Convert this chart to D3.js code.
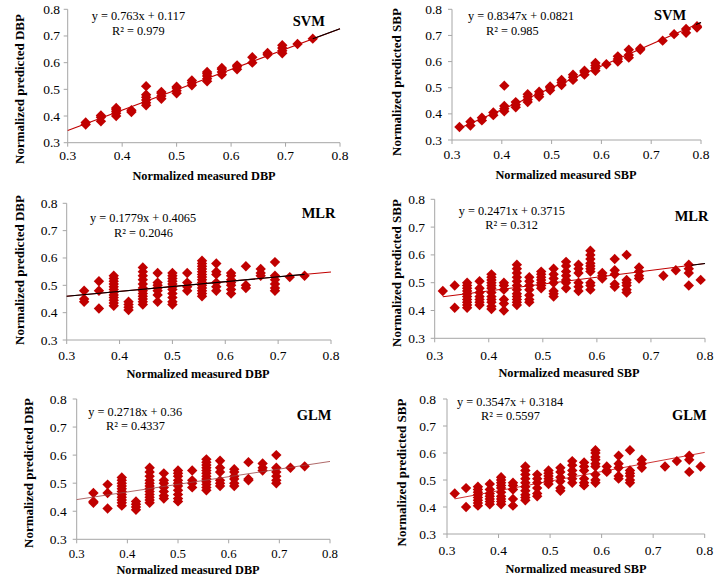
<!DOCTYPE html>
<html><head><meta charset="utf-8">
<script src="https://cdn.jsdelivr.net/npm/d3@7"></script>
<style>
body{margin:0;background:#fff;}
svg{display:block;}
text{font-family:"Liberation Serif","Times New Roman",serif;fill:#000;}
</style></head>
<body><svg id="c" width="724" height="583"></svg>
<script>
// ---------- DATA ----------
const xTicks = [0.3, 0.4, 0.5, 0.6, 0.7, 0.8];
const yTicks = [0.3, 0.4, 0.5, 0.6, 0.7, 0.8];
const tickLabels = ["0.3", "0.4", "0.5", "0.6", "0.7", "0.8"];

const modelNames = ["SVM", "SVM", "MLR", "MLR", "GLM", "GLM"];
const xTitles = ["Normalized measured DBP", "Normalized measured SBP", "Normalized measured DBP", "Normalized measured SBP", "Normalized measured DBP", "Normalized measured SBP"];
const yTitles = ["Normalized predicted DBP", "Normalized predicted SBP", "Normalized predicted DBP", "Normalized predicted SBP", "Normalized predicted DBP", "Normalized predicted SBP"];
const equations = ["y = 0.763x + 0.117", "y = 0.8347x + 0.0821", "y = 0.1779x + 0.4065", "y = 0.2471x + 0.3715", "y = 0.2718x + 0.36", "y = 0.3547x + 0.3184"];
const rSquared = ["R² = 0.979", "R² = 0.985", "R² = 0.2046", "R² = 0.312", "R² = 0.4337", "R² = 0.5597"];
const slopes = [0.763, 0.8347, 0.1779, 0.2471, 0.2718, 0.3547];
const intercepts = [0.117, 0.0821, 0.4065, 0.3715, 0.36, 0.3184];
// trendline extents [red start, red end], black overlay [start, end]
const trendRed = [[0.3, 0.8], [0.315, 0.8], [0.3, 0.8], [0.315, 0.8], [0.3, 0.8], [0.315, 0.8]];
const trendBlack = [[0.75, 0.8], [0.79, 0.8], [0.3, 0.75], [0.775, 0.8], null, null];

// points: [measured x, [predicted y values]]
const svmDbp = [
  [0.333, [0.368, 0.376]], [0.361, [0.38, 0.395, 0.402]], [0.389, [0.40, 0.41, 0.418, 0.425, 0.43]],
  [0.417, [0.415, 0.422]], [0.444, [0.44, 0.45, 0.46, 0.47, 0.48, 0.512]], [0.472, [0.465, 0.475, 0.485, 0.49]],
  [0.5, [0.485, 0.495, 0.505, 0.51]], [0.528, [0.515, 0.525, 0.533]], [0.556, [0.53, 0.54, 0.55, 0.558, 0.565]],
  [0.583, [0.555, 0.565, 0.575, 0.58]], [0.611, [0.575, 0.585, 0.59]], [0.639, [0.60, 0.62]],
  [0.667, [0.63, 0.636]], [0.694, [0.635, 0.645, 0.655, 0.665]], [0.722, [0.67]], [0.75, [0.69]]
];
const svmSbp = [
  [0.315, [0.35]], [0.337, [0.355, 0.37]], [0.36, [0.375, 0.385]], [0.383, [0.395, 0.405]],
  [0.405, [0.41, 0.42, 0.43, 0.508]], [0.428, [0.425, 0.435, 0.445]], [0.452, [0.445, 0.455, 0.465, 0.475]],
  [0.475, [0.465, 0.475, 0.485]], [0.497, [0.49, 0.50, 0.505]], [0.52, [0.51, 0.52, 0.53]],
  [0.543, [0.53, 0.54, 0.55]], [0.566, [0.55, 0.56, 0.565]], [0.588, [0.565, 0.575, 0.585, 0.595]],
  [0.61, [0.59]], [0.633, [0.60, 0.61, 0.62]], [0.655, [0.615, 0.625, 0.645]], [0.678, [0.645, 0.65]],
  [0.723, [0.68]], [0.746, [0.705]], [0.77, [0.71, 0.725]], [0.792, [0.73, 0.735]]
];
const mlrDbp = [
  [0.333, [0.48, 0.45, 0.44]], [0.361, [0.515, 0.48, 0.415]],
  [0.389, [0.535, 0.525, 0.515, 0.505, 0.495, 0.485, 0.475, 0.465, 0.455, 0.445, 0.435, 0.425]],
  [0.417, [0.44, 0.43, 0.42, 0.41]],
  [0.444, [0.565, 0.55, 0.535, 0.52, 0.505, 0.49, 0.48, 0.47, 0.46, 0.45, 0.44, 0.43]],
  [0.472, [0.545, 0.51, 0.50, 0.49, 0.48, 0.465, 0.44]],
  [0.5, [0.545, 0.535, 0.525, 0.515, 0.505, 0.495, 0.485, 0.47, 0.455, 0.44, 0.43]],
  [0.528, [0.545, 0.51, 0.495, 0.48]],
  [0.556, [0.59, 0.58, 0.57, 0.56, 0.55, 0.54, 0.53, 0.52, 0.51, 0.50, 0.49, 0.48, 0.47, 0.46]],
  [0.583, [0.58, 0.55, 0.54, 0.51, 0.495, 0.48]],
  [0.611, [0.545, 0.535, 0.52, 0.51, 0.50, 0.485, 0.47]],
  [0.639, [0.57, 0.50, 0.49]], [0.667, [0.56, 0.545, 0.535]],
  [0.694, [0.585, 0.535, 0.52, 0.505, 0.49, 0.48]], [0.722, [0.53]], [0.75, [0.535]]
];
const mlrSbp = [
  [0.315, [0.47]], [0.337, [0.49, 0.41]],
  [0.36, [0.50, 0.49, 0.48, 0.47, 0.46, 0.45, 0.44, 0.43, 0.42, 0.41]],
  [0.383, [0.505, 0.48, 0.465, 0.45, 0.44, 0.43, 0.42]],
  [0.405, [0.53, 0.52, 0.51, 0.50, 0.49, 0.48, 0.465, 0.45, 0.44, 0.43, 0.415, 0.405]],
  [0.428, [0.50, 0.49, 0.475, 0.44, 0.425, 0.40]],
  [0.452, [0.565, 0.55, 0.535, 0.52, 0.505, 0.49, 0.475, 0.46, 0.45, 0.44, 0.43, 0.42]],
  [0.475, [0.52, 0.505, 0.49, 0.475, 0.455, 0.44, 0.43]],
  [0.497, [0.54, 0.53, 0.52, 0.51, 0.50, 0.49, 0.48]],
  [0.52, [0.55, 0.53, 0.515, 0.50, 0.47, 0.46, 0.45]],
  [0.543, [0.575, 0.56, 0.54, 0.525, 0.51, 0.50, 0.48]],
  [0.566, [0.565, 0.55, 0.535, 0.50, 0.485, 0.47]],
  [0.588, [0.615, 0.60, 0.585, 0.57, 0.56, 0.55, 0.54, 0.50, 0.49, 0.475]],
  [0.61, [0.535, 0.525, 0.515]], [0.633, [0.585, 0.545, 0.53, 0.495, 0.485]],
  [0.655, [0.60, 0.51, 0.50, 0.49, 0.475, 0.465]], [0.678, [0.555, 0.54, 0.525, 0.515]],
  [0.723, [0.525]], [0.746, [0.545]], [0.77, [0.565, 0.55, 0.535, 0.49]], [0.792, [0.51]]
];
const glmDbp = [
  [0.333, [0.465, 0.435, 0.43]], [0.361, [0.495, 0.465, 0.41]],
  [0.389, [0.52, 0.51, 0.50, 0.49, 0.48, 0.47, 0.46, 0.45, 0.44, 0.43, 0.42]],
  [0.417, [0.435, 0.425, 0.415, 0.405]],
  [0.444, [0.555, 0.54, 0.525, 0.51, 0.50, 0.49, 0.48, 0.47, 0.46, 0.45, 0.44, 0.43]],
  [0.472, [0.535, 0.51, 0.50, 0.485, 0.47, 0.455, 0.445]],
  [0.5, [0.545, 0.535, 0.525, 0.51, 0.50, 0.49, 0.475, 0.46, 0.445, 0.435]],
  [0.528, [0.545, 0.51, 0.50, 0.485]],
  [0.556, [0.585, 0.575, 0.565, 0.555, 0.545, 0.535, 0.525, 0.515, 0.505, 0.495, 0.485, 0.475]],
  [0.583, [0.58, 0.555, 0.54, 0.51, 0.50, 0.49]],
  [0.611, [0.55, 0.54, 0.525, 0.515, 0.50, 0.49]],
  [0.639, [0.575, 0.515, 0.51]], [0.667, [0.57, 0.555, 0.545]],
  [0.694, [0.60, 0.555, 0.54, 0.525, 0.51, 0.50]], [0.722, [0.555]], [0.75, [0.56]]
];
const glmSbp = [
  [0.315, [0.45]], [0.337, [0.47, 0.40]],
  [0.36, [0.475, 0.465, 0.455, 0.445, 0.435, 0.425, 0.415, 0.405]],
  [0.383, [0.485, 0.465, 0.45, 0.44, 0.43, 0.42, 0.41]],
  [0.405, [0.51, 0.50, 0.49, 0.48, 0.47, 0.455, 0.44, 0.43, 0.42, 0.41]],
  [0.428, [0.49, 0.48, 0.465, 0.43, 0.405]],
  [0.452, [0.55, 0.535, 0.52, 0.505, 0.49, 0.475, 0.46, 0.445, 0.435, 0.425]],
  [0.475, [0.52, 0.505, 0.49, 0.47, 0.45, 0.44]],
  [0.497, [0.535, 0.525, 0.515, 0.505, 0.495, 0.485]],
  [0.52, [0.545, 0.53, 0.51, 0.495, 0.47, 0.46]],
  [0.543, [0.57, 0.555, 0.535, 0.52, 0.505, 0.49]],
  [0.566, [0.565, 0.55, 0.535, 0.505, 0.49, 0.48]],
  [0.588, [0.61, 0.60, 0.585, 0.575, 0.56, 0.55, 0.52, 0.50, 0.49]],
  [0.61, [0.55, 0.535, 0.53]], [0.633, [0.59, 0.56, 0.545, 0.515, 0.505]],
  [0.655, [0.61, 0.535, 0.525, 0.515, 0.50, 0.49]], [0.678, [0.575, 0.56, 0.545]],
  [0.723, [0.55]], [0.746, [0.57]], [0.77, [0.59, 0.575, 0.53]], [0.792, [0.55]]
];
const panelData = [svmDbp, svmSbp, mlrDbp, mlrSbp, glmDbp, glmSbp];

// ---------- LAYOUT ----------
const layout = [
  {x0:67.7, x1:340, yT:9.3, yB:142.7, tickLx:60, tickLy:160, xtx:204, xty:180, ytx:24, yty:89, eqx:91.7, eqy:19.5, r2x:112, r2y:34.5, mx:292.7, my:26},
  {x0:452, x1:701, yT:9.3, yB:140, tickLx:442, tickLy:159, xtx:566, xty:178.5, ytx:401, yty:82, eqx:468, eqy:19.5, r2x:486, r2y:34.5, mx:654, my:19.5},
  {x0:66.7, x1:331, yT:203.3, yB:340, tickLx:57.5, tickLy:359.5, xtx:198, xty:378, ytx:24, yty:270, eqx:90, eqy:221.5, r2x:114, r2y:236.5, mx:301.7, my:217.5},
  {x0:434.7, x1:705, yT:199.3, yB:338.3, tickLx:425, tickLy:359.5, xtx:569, xty:377, ytx:401, yty:273, eqx:458.7, eqy:215, r2x:485.3, r2y:228.5, mx:674.7, my:220.5},
  {x0:76.7, x1:330, yT:399, yB:539.3, tickLx:66.7, tickLy:557.5, xtx:188, xty:574, ytx:33, yty:473, eqx:88.3, eqy:415.5, r2x:106, r2y:430, mx:296.7, my:420},
  {x0:447, x1:704.7, yT:399, yB:534, tickLx:436, tickLy:555, xtx:576, xty:573, ytx:406, yty:472.5, eqx:457, eqy:405.5, r2x:481, r2y:419.5, mx:672, my:420}
];

const svg = d3.select("#c");
const RED = "#c00000";
const AXIS = "#a6a6a6";
const diamond = r => `M0,${-r}L${r},0L0,${r}L${-r},0Z`;

layout.forEach((L, i) => {
  const x = d3.scaleLinear().domain([0.3, 0.8]).range([L.x0, L.x1]);
  const y = d3.scaleLinear().domain([0.3, 0.8]).range([L.yB, L.yT]);
  const g = svg.append("g");

  // axes lines
  g.append("line").attr("x1", L.x0).attr("x2", L.x0).attr("y1", L.yT).attr("y2", L.yB).attr("stroke", AXIS).attr("stroke-width", 1);
  g.append("line").attr("x1", L.x0).attr("x2", L.x1).attr("y1", L.yB).attr("y2", L.yB).attr("stroke", AXIS).attr("stroke-width", 1);
  // ticks
  yTicks.forEach(t => {
    g.append("line").attr("x1", L.x0 - 4).attr("x2", L.x0).attr("y1", y(t)).attr("y2", y(t)).attr("stroke", AXIS);
  });
  xTicks.forEach(t => {
    g.append("line").attr("x1", x(t)).attr("x2", x(t)).attr("y1", L.yB).attr("y2", L.yB + 4).attr("stroke", AXIS);
  });
  // tick labels
  const tfs = i === 4 ? 12.8 : 13.5;
  yTicks.forEach((t, k) => {
    g.append("text").attr("x", L.tickLx).attr("y", y(t) + 4.5).attr("text-anchor", "end")
      .attr("font-size", 13.5).text(tickLabels[k]);
  });
  xTicks.forEach((t, k) => {
    g.append("text").attr("x", x(t)).attr("y", L.tickLy).attr("text-anchor", "middle")
      .attr("font-size", tfs).text(tickLabels[k]);
  });

  // points
  const pts = [];
  panelData[i].forEach(([mx, ys]) => ys.forEach(v => pts.push([mx, v])));
  g.selectAll("path.pt").data(pts).enter().append("path").attr("class", "pt")
    .attr("d", diamond(5.2))
    .attr("transform", d => `translate(${x(d[0])},${y(d[1])})`)
    .attr("fill", RED);

  // trendlines
  const f = v => slopes[i] * v + intercepts[i];
  const tr = trendRed[i];
  g.append("line").attr("x1", x(tr[0])).attr("y1", y(f(tr[0]))).attr("x2", x(tr[1])).attr("y2", y(f(tr[1])))
    .attr("stroke", i === 4 ? "#9a4444" : RED).attr("stroke-width", i >= 4 ? 0.8 : 1.1);
  const tb = trendBlack[i];
  if (tb) {
    g.append("line").attr("x1", x(tb[0])).attr("y1", y(f(tb[0]))).attr("x2", x(tb[1])).attr("y2", y(f(tb[1])))
      .attr("stroke", "#000").attr("stroke-width", 1.1);
  }

  // texts
  g.append("text").attr("x", L.eqx).attr("y", L.eqy).attr("font-size", 12.3).text(equations[i]);
  g.append("text").attr("x", L.r2x).attr("y", L.r2y).attr("font-size", 12.3).text(rSquared[i]);
  g.append("text").attr("x", L.mx).attr("y", L.my).attr("font-size", 14.5).attr("font-weight", "bold").text(modelNames[i]);
  g.append("text").attr("x", L.xtx).attr("y", L.xty).attr("text-anchor", "middle")
    .attr("font-size", 12.3).attr("font-weight", "bold").text(xTitles[i]);
  g.append("text").attr("transform", `translate(${L.ytx},${L.yty}) rotate(-90)`).attr("text-anchor", "middle")
    .attr("font-size", 13).attr("font-weight", "bold").text(yTitles[i]);
});
</script>
</body></html>
